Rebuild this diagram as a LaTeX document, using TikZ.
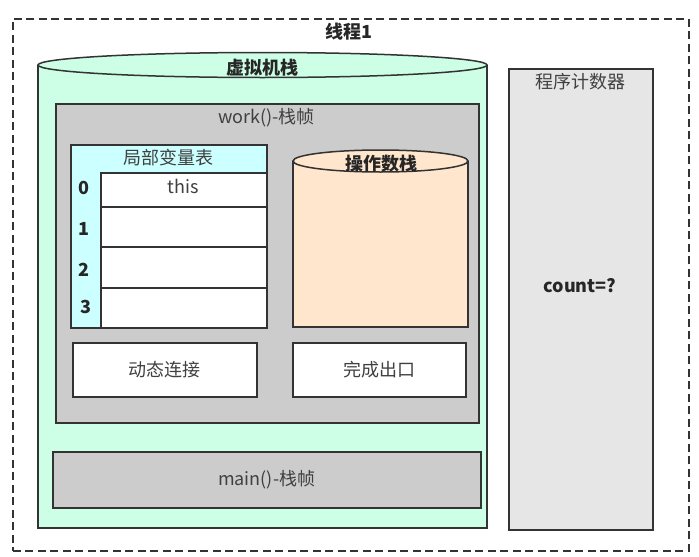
\documentclass[tikz,border=0pt]{standalone}
\usepackage{fontspec}
\setmainfont{Noto Sans CJK SC}
\begin{document}
\begin{tikzpicture}[x=1pt,y=-1pt,
  line/.style={draw=black!80, line width=1.5pt},
  lbl/.style={inner sep=0pt, text=black!75, font=\fontsize{18}{20}\selectfont},
  blbl/.style={inner sep=0pt, text=black!85, font=\fontsize{18}{20}\selectfont\bfseries},
  box/.style={line, rectangle, inner sep=0pt, anchor=north west}]
\definecolor{mint}{HTML}{CCFFE6}
\definecolor{fgray}{HTML}{CCCCCC}
\definecolor{pcgray}{HTML}{E6E6E6}
\definecolor{cyanl}{HTML}{CCFFFF}
\definecolor{peach}{HTML}{FFE6CC}
\useasboundingbox (0,0) rectangle (699,557);
\fill[white] (0,0) rectangle (699,557);
% outer thread
\node[box, draw=black!80, line width=1.8pt, dash pattern=on 8pt off 4.5pt, minimum width=676pt, minimum height=532pt] (thread) at (12,18) {};
\node[blbl] (threadlbl) at (349,32) {线程1};
% VM stack cylinder
\fill[mint] (38,65) -- (38,528) -- (487,528) -- (487,65) -- cycle;
\draw[line] (38,65) -- (38,528) -- (487,528) -- (487,65);
\draw[line, fill=mint] (262.5,65) ellipse [x radius=224.5, y radius=12.5];
\node[blbl] (vmlbl) at (262.5,68) {虚拟机栈};
% program counter
\node[box, fill=pcgray, minimum width=144pt, minimum height=461pt] (pc) at (508,68) {};
\node[lbl] (pclbl) at (580,82) {程序计数器};
\node[blbl] (count) at (580,286) {count=?};
% work frame
\node[box, fill=fgray, minimum width=423pt, minimum height=319pt] (work) at (55,103) {};
\node[lbl] (worklbl) at (266.5,118) {work()-栈帧};
% local variable table
\node[box, fill=cyanl, minimum width=196pt, minimum height=183pt] (lvt) at (70,144) {};
\node[lbl] (lvtlbl) at (168,158) {局部变量表};
\node[box, fill=white, minimum width=166pt, minimum height=34pt] (r0) at (100,172) {};
\node[box, fill=white, minimum width=166pt, minimum height=40pt] (r1) at (100,206) {};
\node[box, fill=white, minimum width=166pt, minimum height=41pt] (r2) at (100,246) {};
\node[box, fill=white, minimum width=166pt, minimum height=40pt] (r3) at (100,287) {};
\node[lbl] (this) at (183,186) {this};
\node[blbl] (i0) at (84,188) {0};
\node[blbl] (i1) at (84,229) {1};
\node[blbl] (i2) at (84,270) {2};
\node[blbl] (i3) at (86,307) {3};
% operand stack cylinder
\fill[peach] (293,161) -- (293,327) -- (468,327) -- (468,161) -- cycle;
\draw[line] (293,161) -- (293,327) -- (468,327) -- (468,161);
\draw[line, fill=peach] (380.5,161) ellipse [x radius=87.5, y radius=11];
\node[blbl] (oslbl) at (381,164) {操作数栈};
% dynamic link and return
\node[box, fill=white, minimum width=184pt, minimum height=54pt] (dyn) at (72,342) {};
\node[lbl] at (dyn.center) {动态连接};
\node[box, fill=white, minimum width=173pt, minimum height=54pt] (ret) at (292,342) {};
\node[lbl] at (ret.center) {完成出口};
% main frame
\node[box, fill=fgray, minimum width=428pt, minimum height=56pt] (main) at (52,451) {};
\node[lbl] at (main.center) {main()-栈帧};
\end{tikzpicture}
\end{document}
